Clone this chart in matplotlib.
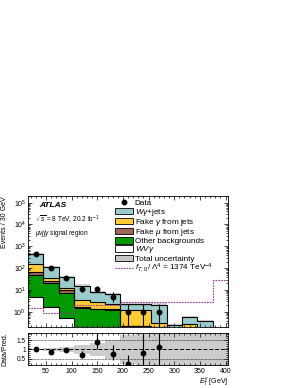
import numpy as np
import matplotlib.pyplot as plt
import matplotlib as mpl
from matplotlib.patches import Patch
from matplotlib.lines import Line2D

mpl.rcParams['font.family'] = ['Liberation Sans', 'DejaVu Sans']
mpl.rcParams['mathtext.fontset'] = 'custom'
mpl.rcParams['mathtext.rm'] = 'Liberation Sans'
mpl.rcParams['mathtext.it'] = 'Liberation Sans:italic'
FS = 5

# binning (30 GeV bins)
edges = np.arange(15, 406, 30)

# stacked predictions, cumulative tops per bin (last bin has nothing)
wvg_top    = [5.0, 1.6, 0.5, 0.15, 0.12, 0.1, 0.05, 0.05, 0.04, 0.02, 0.02, 0.02, 0]
other_top  = [50, 20, 7.5, 1.5, 1.3, 1.2, 0.22, 0.22, 0.2, 0.1, 0.1, 0.1, 0]
fakemu_top = [70, 27, 10, 1.7, 1.4, 1.3, 0.23, 0.23, 0.2, 0.1, 0.1, 0.1, 0]
fakeg_top  = [160, 37, 12.6, 3.6, 2.9, 2.2, 1.2, 1.2, 0.3, 0.15, 0.28, 0.15, 0]
wg_top     = [450, 118, 40, 16, 7.7, 6.4, 2.3, 2.3, 2.1, 0.25, 0.6, 0.4, 0]
main_unc   = [0.05, 0.07, 0.1, 0.12, 0.15, 0.15, 0.2, 0.2, 0.15, 0.1, 0.1, 0.1, 0]
rel_unc    = [0.05, 0.07, 0.12, 0.25, 0.35, 0.5, 0.75, 2, 2, 2, 2, 2, 2]

# aQGC signal f_T0
sig = [1.5, 0.9, 0.9, 2.0, 2.0, 2.1, 2.9, 2.9, 2.9, 2.9, 2.9, 2.9, 30]

# data
data_x  = [30, 60, 90, 120, 150, 180, 210, 240, 270]
data_y  = [460, 100, 37, 11.5, 11, 5, 1, 1, 1]
data_lo = [21, 10, 6, 3.4, 3.3, 2.2, 0.83, 0.83, 0.83]
data_hi = [22, 11, 7, 4.5, 4.4, 3.4, 1.3, 1.3, 1.3]

# data / prediction
ratio    = [1.0, 0.88, 0.95, 0.72, 1.42, 0.78, 0.22, 0.82, 1.13]
ratio_lo = [0.04, 0.06, 0.1, 0.15, 0.42, 0.35, 0.22, 0.82, 1.13]
ratio_hi = [0.04, 0.06, 0.12, 0.2, 0.45, 0.45, 0.5, 1.0, 1.0]

c_wg = '#99cccc'
c_fg = '#ffcc33'
c_fm = '#a0665c'
c_ot = '#009900'
c_sig = '#993399'

fig = plt.figure(figsize=(3, 3.88), dpi=100)
ax = fig.add_axes([0.0933, 0.157, 0.667, 0.3376])
rax = fig.add_axes([0.0933, 0.058, 0.667, 0.085])

def step(vals):
    return np.append(vals, vals[-1])

layers = [(wg_top, c_wg), (fakeg_top, c_fg), (fakemu_top, c_fm), (other_top, c_ot), (wvg_top, 'white')]
for vals, col in layers:
    ax.fill_between(edges, 1e-3, step(vals), step='post', color=col, lw=0)
    ax.step(edges, step(vals), where='post', color='black', lw=0.8)

tot = np.array(wg_top, dtype=float)
munc = np.array(main_unc)
ax.fill_between(edges, step(np.maximum(tot * (1 - munc), 1e-3)), step(tot * (1 + munc)),
                step='post', color='grey', alpha=0.35, lw=0)

ax.step(edges, step(sig), where='post', color=c_sig, lw=0.8, ls=(0, (1.5, 1)))

ax.errorbar(data_x, data_y, yerr=[data_lo, data_hi], fmt='o', color='black',
            ms=3.2, lw=0.8, capsize=0)

ax.set_yscale('log')
ax.set_xlim(15, 405)
ax.set_ylim(0.2, 2e5)
ax.set_xticklabels([])
ax.set_ylabel('Events / 30 GeV', fontsize=FS, loc='top')
ax.yaxis.set_label_coords(-0.1, 1.0)

ax.text(0.055, 0.93, 'ATLAS', transform=ax.transAxes, fontsize=FS + 1,
        fontweight='bold', fontstyle='italic', va='center')
ax.text(0.035, 0.82, r'$\sqrt{s}$ = 8 TeV, 20.2 fb$^{-1}$', transform=ax.transAxes,
        fontsize=FS - 0.3, va='center')
ax.text(0.035, 0.715, r'$\mu\nu jj\gamma$ signal region', transform=ax.transAxes,
        fontsize=FS - 0.3, va='center')

handles = [
    Line2D([], [], marker='o', color='black', ls='none', ms=3.2),
    Patch(fc=c_wg, ec='black', lw=0.6),
    Patch(fc=c_fg, ec='black', lw=0.6),
    Patch(fc=c_fm, ec='black', lw=0.6),
    Patch(fc=c_ot, ec='black', lw=0.6),
    Patch(fc='white', ec='black', lw=0.6),
    Patch(fc='#c8c8c8', ec='black', lw=0.6),
    Line2D([], [], color=c_sig, lw=0.8, ls=(0, (1.5, 1))),
]
labels = ['Data', r'$W\gamma$+jets', r'Fake $\gamma$ from jets', r'Fake $\mu$ from jets',
          'Other backgrounds', r'$WV\gamma$', 'Total uncertainty',
          r'$f_{T,0}\,/\,\Lambda^4$ = 1374 TeV$^{-4}$']
ax.legend(handles, labels, loc='upper left', bbox_to_anchor=(0.435, 0.975),
          fontsize=FS + 0.9, frameon=False, borderpad=0, borderaxespad=0,
          handlelength=2.2, handleheight=0.85, labelspacing=-0.1, handletextpad=0.2)

# ratio panel
rax.fill_between(edges, step(1 - np.array(rel_unc)), step(1 + np.array(rel_unc)),
                 step='post', color='#cccccc', lw=0)
rax.axhline(1, color='black', lw=0.7, ls=(0, (4, 2)))
rax.axhline(1.5, color='black', lw=0.5, ls=(0, (1, 1)))
rax.axhline(0.5, color='black', lw=0.5, ls=(0, (1, 1)))
rax.errorbar(data_x, ratio, yerr=[ratio_lo, ratio_hi], fmt='o', color='black',
             ms=3.2, lw=0.8, capsize=0)
rax.set_xlim(15, 405)
rax.set_ylim(0.15, 1.9)
rax.set_yticks([0.5, 1, 1.5])
rax.set_yticklabels(['0.5', '1', '1.5'])
rax.set_ylabel('Data/Pred.', fontsize=FS)
rax.yaxis.set_label_coords(-0.1, 0.5)
rax.set_xlabel(r'$E_{\mathrm{T}}^{\gamma}$ [GeV]', fontsize=FS, loc='right', labelpad=0)

for a in (ax, rax):
    a.tick_params(which='both', direction='in', top=True, right=True, labelsize=FS, pad=1.5)
    a.tick_params(which='major', length=3, width=0.5)
    a.tick_params(which='minor', length=1.5, width=0.5)
    a.minorticks_on()
    for s in a.spines.values():
        s.set_linewidth(0.6)
rax.tick_params(axis='y', labelsize=FS - 0.3)
ax.yaxis.set_minor_locator(mpl.ticker.LogLocator(subs=np.arange(2, 10), numticks=20))
rax.yaxis.set_minor_locator(mpl.ticker.MultipleLocator(0.1))
rax.xaxis.set_minor_locator(mpl.ticker.MultipleLocator(10))
ax.xaxis.set_minor_locator(mpl.ticker.MultipleLocator(10))

fig.savefig('out.png', dpi=100)
